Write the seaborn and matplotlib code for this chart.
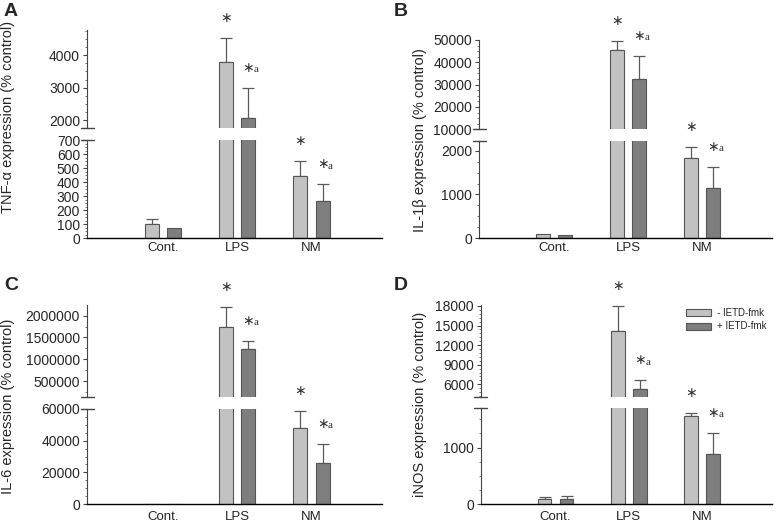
import numpy as np
import pandas as pd
import matplotlib
matplotlib.use("Agg")
import matplotlib.pyplot as plt
from matplotlib.patches import Patch
from matplotlib.container import BarContainer
from matplotlib.ticker import MultipleLocator
import seaborn as sns

# ---------------- data ----------------
categories = ["Cont.", "LPS", "NM"]
treatments = ["- IETD-fmk", "+ IETD-fmk"]
star_categories = ["LPS", "NM"]
star_labels = ["*", "*a"]

# Panel A: TNF-alpha
tnf_minus = [100, 3780, 446]
tnf_plus = [71, 2060, 268]
tnf_minus_err = [35, 755, 105]
tnf_plus_err = [0, 940, 117]

# Panel B: IL-1beta
il1_minus = [95, 45400, 1840]
il1_plus = [80, 32400, 1140]
il1_minus_err = [0, 4300, 250]
il1_plus_err = [0, 10600, 495]

# Panel C: IL-6
il6_minus = [100, 1750000, 48100]
il6_plus = [100, 1244000, 26000]
il6_minus_err = [0, 455000, 10400]
il6_plus_err = [0, 178000, 11900]

# Panel D: iNOS
inos_minus = [95, 14200, 1565]
inos_plus = [95, 5240, 882]
inos_minus_err = [35, 3820, 52]
inos_plus_err = [55, 1370, 380]

ylabels = ["TNF-\u03b1 expression (% control)", "IL-1\u03b2 expression (% control)",
           "IL-6 expression (% control)", "iNOS expression (% control)"]
panel_letters = ["A", "B", "C", "D"]

# ---------------- style ----------------
sns.set_style("ticks")
plt.rcParams["font.family"] = ["Liberation Sans", "DejaVu Sans"]

light = "#c2c2c2"
dark = "#7e7e7e"
edge = "#555555"
ecol = "#5a5a5a"

W, H = 776, 524
fig = plt.figure(figsize=(W / 100, H / 100), dpi=100)


def fax(left, right, bottom_px, top_px):
    return fig.add_axes([left / W, 1 - bottom_px / H, (right - left) / W, (bottom_px - top_px) / H])


def bar_containers(ax):
    return [c for c in ax.containers if isinstance(c, BarContainer)]


def draw_panel(ax_top, ax_bot, minus, plus, minus_err, plus_err,
               lim_bot, lim_top, yt_bot, yt_top, minor_bot, minor_top, label_pad):
    df = pd.DataFrame({
        "category": categories * 2,
        "treatment": [treatments[0]] * len(categories) + [treatments[1]] * len(categories),
        "value": list(minus) + list(plus),
    })
    means = [minus, plus]
    errs = [minus_err, plus_err]
    for ax, lim in ((ax_top, lim_top), (ax_bot, lim_bot)):
        sns.barplot(data=df, x="category", y="value", hue="treatment",
                    order=categories, hue_order=treatments,
                    palette=[light, dark], width=0.6, gap=0.37, errorbar=None,
                    edgecolor=edge, linewidth=0.8, legend=False, ax=ax, zorder=2)
        for h, cont in enumerate(bar_containers(ax)):
            for i, p in enumerate(cont.patches):
                if errs[h][i] > 0:
                    x = p.get_x() + p.get_width() / 2
                    ax.errorbar(x, means[h][i], yerr=[[0], [errs[h][i]]], fmt="none",
                                ecolor=ecol, elinewidth=0.9, capsize=4.2, capthick=0.9,
                                zorder=1)
        ax.set_xlim(-1.02, 2.95)
        ax.set_ylim(*lim)
        ax.set_xlabel("")
        ax.set_ylabel("")
        ax.spines["right"].set_visible(False)
        ax.spines["top"].set_visible(False)
        ax.spines["left"].set_color("#444444")
        ax.spines["left"].set_linewidth(0.8)
        ax.tick_params(axis="y", which="major", length=3, width=0.8, color="#444444",
                       labelsize=10, pad=2)
        ax.tick_params(axis="y", which="minor", length=1.6, width=0.6, color="#666666")
        ax.patch.set_alpha(0)

    # stars
    for h, cont in enumerate(bar_containers(ax_bot)):
        for i, p in enumerate(cont.patches):
            if categories[i] not in star_categories:
                continue
            x = p.get_x() + p.get_width() / 2
            top = means[h][i] + errs[h][i]
            ax = ax_top if top > lim_bot[1] else ax_bot
            ax.annotate("\u2217", xy=(x, top), xytext=(0, 20), textcoords="offset pixels",
                        ha="center", va="center", fontsize=10, color="#333333",
                        family="DejaVu Sans", annotation_clip=False)
            if star_labels[h].endswith("a"):
                ax.annotate("a", xy=(x, top), xytext=(8, 18), textcoords="offset pixels",
                            ha="center", va="center", fontsize=8, color="#333333",
                            family="Liberation Serif", annotation_clip=False)

    # top axes
    ax_top.spines["bottom"].set_visible(False)
    ax_top.tick_params(axis="x", bottom=False, labelbottom=False)
    ax_top.set_yticks(yt_top)
    ax_top.set_yticklabels([str(v) for v in yt_top])
    ax_top.yaxis.set_minor_locator(MultipleLocator(minor_top))
    # bottom axes
    ax_bot.spines["bottom"].set_color("black")
    ax_bot.spines["bottom"].set_linewidth(1.0)
    ax_bot.tick_params(axis="x", length=0, labelsize=9.5, pad=label_pad)
    ax_bot.set_yticks(yt_bot)
    ax_bot.set_yticklabels([str(v) for v in yt_bot])
    ax_bot.yaxis.set_minor_locator(MultipleLocator(minor_bot))

    # break marks
    wb = 6.5 / (ax_bot.get_position().width * W)
    ax_bot.plot([-wb, wb], [1, 1], transform=ax_bot.transAxes, clip_on=False,
                color="#444444", lw=1.0)
    wt = 6.5 / (ax_top.get_position().width * W)
    ax_top.plot([-wt, wt], [0, 0], transform=ax_top.transAxes, clip_on=False,
                color="#444444", lw=1.0)


# Panel A
axA_t = fax(87, 382, 128, 29.5)
axA_b = fax(87, 382, 238.3, 140)
draw_panel(axA_t, axA_b, tnf_minus, tnf_plus, tnf_minus_err, tnf_plus_err,
           (0, 700), (1760, 4790), list(range(0, 701, 100)), [2000, 3000, 4000],
           25, 250, 3)

# Panel B
axB_t = fax(479, 772, 129.3, 40)
axB_b = fax(479, 772, 238.3, 141)
draw_panel(axB_t, axB_b, il1_minus, il1_plus, il1_minus_err, il1_plus_err,
           (0, 2220), (10000, 50000), [0, 1000, 2000], [10000, 20000, 30000, 40000, 50000],
           250, 2500, 3)

# Panel C
axC_t = fax(87, 382, 396.7, 305)
axC_b = fax(87, 382, 504.3, 408.7)
draw_panel(axC_t, axC_b, il6_minus, il6_plus, il6_minus_err, il6_plus_err,
           (0, 60000), (140000, 2245000), [0, 20000, 40000, 60000],
           [500000, 1000000, 1500000, 2000000], 5000, 250000, 4.5)

# Panel D
axD_t = fax(480.7, 772, 396.5, 305)
axD_b = fax(480.7, 772, 504.3, 407.7)
draw_panel(axD_t, axD_b, inos_minus, inos_plus, inos_minus_err, inos_plus_err,
           (0, 1705), (4130, 18150), [0, 1000], [6000, 9000, 12000, 15000, 18000],
           250, 600, 4.5)

handles = [Patch(facecolor=light, edgecolor=edge, linewidth=0.8),
           Patch(facecolor=dark, edgecolor=edge, linewidth=0.8)]
axD_t.legend(handles, treatments, loc="upper right", bbox_to_anchor=(1.0, 1.03),
             frameon=False, fontsize=7, handlelength=2.6, handleheight=0.75,
             labelspacing=0.35, handletextpad=0.6, borderaxespad=0.2)

# y labels
ylabel_pos = [(8, 117), (420, 140), (8, 406), (420, 404)]
for (xp, yp), lab in zip(ylabel_pos, ylabels):
    fig.text(xp / W, 1 - yp / H, lab, rotation=90, ha="center", va="center", fontsize=10.5)

# panel letters
letter_pos = [(4, 11), (394, 11), (4, 285), (394, 285)]
for (xp, yp), lab in zip(letter_pos, panel_letters):
    fig.text(xp / W, 1 - yp / H, lab, ha="left", va="center", fontsize=14, fontweight="bold")

fig.savefig("out.png", dpi=100)
